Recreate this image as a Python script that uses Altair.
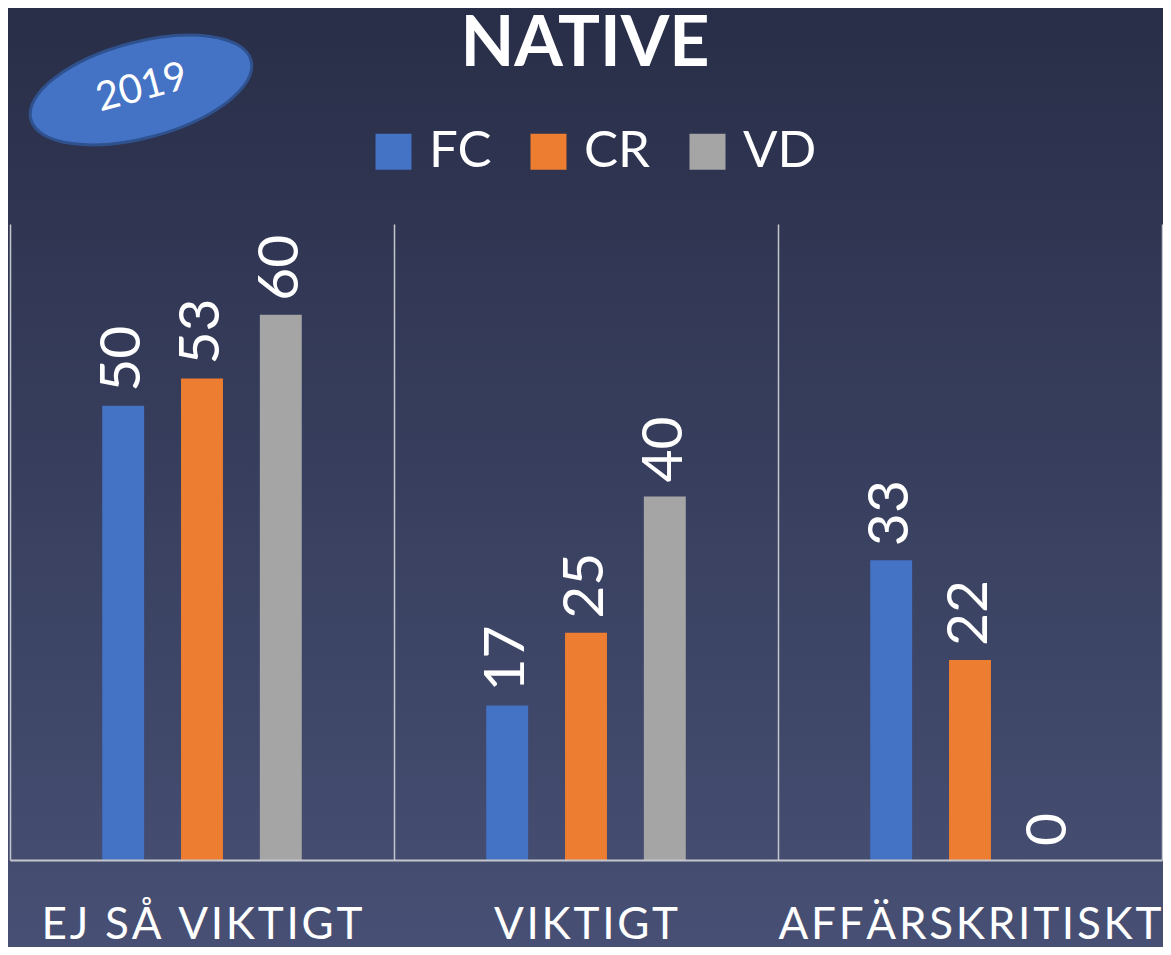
import altair as alt
import pandas as pd

categories = ["EJ SÅ VIKTIGT", "VIKTIGT", "AFFÄRSKRITISKT"]
series = ["FC", "CR", "VD"]
fc_values = [50, 17, 33]
cr_values = [53, 25, 22]
vd_values = [60, 40, 0]
series_colors = ["#4472C4", "#ED7D31", "#A5A5A5"]
title_text = "NATIVE"
badge_text = "2019"

rows = []
for s, vals in zip(series, [fc_values, cr_values, vd_values]):
    for c, v in zip(categories, vals):
        rows.append({"category": c, "series": s, "value": v})
df = pd.DataFrame(rows)

W, H = 1152, 636
PT, PB = 216, 87
FONT = "Lato"
offset_domain = ["_pad1"] + series + ["_pad2"]

x_enc = alt.X("category:N", sort=categories, title=None,
              scale=alt.Scale(paddingInner=0, paddingOuter=0),
              axis=alt.Axis(labelAngle=0, labelFontSize=44, labelColor="white", labelFont=FONT,
                            labelBaseline="alphabetic", labelPadding=78, ticks=False, tickSize=0,
                            labelLimit=0,
                            labelExpr="join(split(datum.label, ''), '\u200a')",
                            domain=True, domainColor="#c4c6cc", domainWidth=2,
                            grid=True, gridColor="#c4c6cc", gridWidth=1.5, bandPosition=0,
                            zindex=1))
xo_scale = alt.Scale(domain=offset_domain, paddingInner=0.468, paddingOuter=0.17)
y_enc = alt.Y("value:Q", scale=alt.Scale(domain=[0, 70], nice=False), title=None,
              axis=alt.Axis(orient="right", labels=False, ticks=False, grid=False,
                            domain=True, domainColor="#c4c6cc", domainWidth=1.5, zindex=1))
color_enc = alt.Color("series:N", sort=series,
                      scale=alt.Scale(domain=series, range=series_colors),
                      legend=alt.Legend(title=None, orient="none", legendX=358, legendY=-98,
                                        direction="horizontal", symbolType="square",
                                        symbolSize=1296, symbolStrokeWidth=0, labelFontSize=51,
                                        labelFont=FONT, labelColor="white", labelOffset=10,
                                        columnPadding=31, padding=0))

bg = alt.Chart(pd.DataFrame({"a": [0]})).mark_rect(
    color=alt.Gradient(gradient="linear",
                       stops=[alt.GradientStop(color="#292e48", offset=0),
                              alt.GradientStop(color="#383f5e", offset=0.5),
                              alt.GradientStop(color="#475074", offset=1)],
                       x1=0, x2=0, y1=0, y2=1)
).encode(x=alt.value(-2), x2=alt.value(W + 1), y=alt.value(-PT), y2=alt.value(H + PB))

bars = alt.Chart(df).mark_bar().encode(
    x=x_enc, xOffset=alt.XOffset("series:N", scale=xo_scale), y=y_enc, color=color_enc)

labels = alt.Chart(df).mark_text(angle=270, align="left", baseline="middle", dx=14,
                                 fontSize=57, font=FONT, color="white").encode(
    x=alt.X("category:N", sort=categories), xOffset=alt.XOffset("series:N", scale=xo_scale),
    y="value:Q", text="value:Q")

badge_df = pd.DataFrame({"label": [badge_text]})
ellipse = alt.Chart(badge_df).mark_point(
    shape="M -1 0 A 1 0.42 0 1 1 1 0 A 1 0.42 0 1 1 -1 0 Z",
    size=51984, angle=345, filled=True, fill="#4472C4", stroke="#2f528f",
    strokeWidth=3, opacity=1
).encode(x=alt.value(131), y=alt.value(-134))
badge = alt.Chart(badge_df).mark_text(angle=345, fontSize=40, font=FONT, color="white",
                                      align="center", baseline="middle").encode(
    x=alt.value(132), y=alt.value(-136), text="label:N")

title_df = pd.DataFrame({"label": [title_text]})
title = alt.Chart(title_df).mark_text(fontSize=70, font=FONT, fontWeight="bold", color="white",
                                      align="center", baseline="alphabetic").encode(
    x=alt.value(575), y=alt.value(-158), text="label:N")

chart = alt.layer(bg, bars, labels, ellipse, badge, title).properties(
    width=W, height=H,
    autosize=alt.AutoSizeParams(type="none"),
    padding={"left": 2, "top": PT, "right": 1, "bottom": PB},
    background="#475074",
).configure_view(stroke=None)

chart.save("out.html", embed_options={"renderer": "svg", "actions": False})
